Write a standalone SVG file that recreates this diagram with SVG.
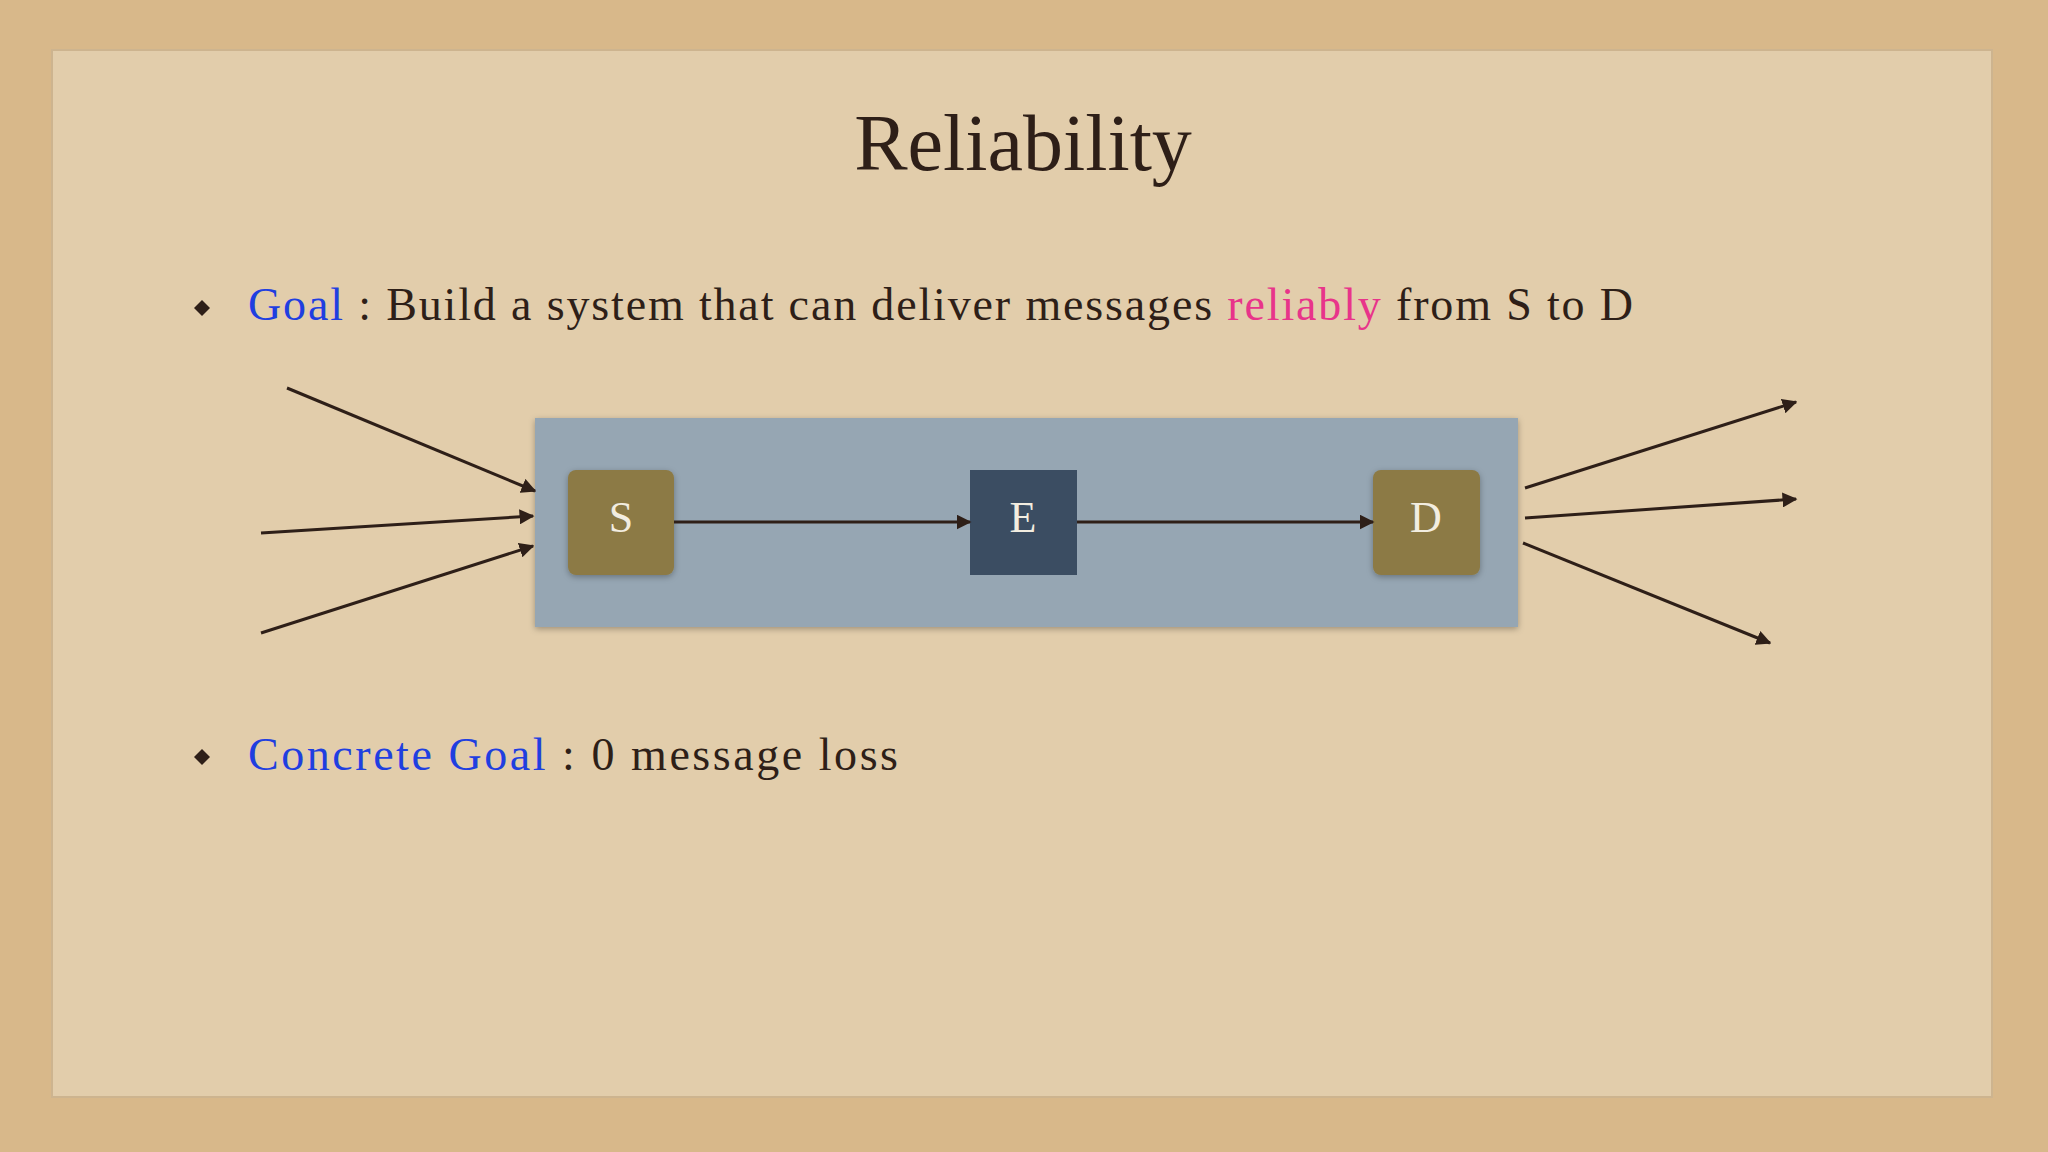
<svg xmlns="http://www.w3.org/2000/svg" width="2048" height="1152" viewBox="0 0 2048 1152">
<defs>
<marker id="ah" viewBox="0 0 10 10" refX="9" refY="5" markerWidth="5" markerHeight="5" orient="auto"><path d="M0,0L10,5L0,10z" fill="#2e1f18"/></marker>
<filter id="sh"><feDropShadow dx="0" dy="2" stdDeviation="3" flood-opacity="0.3"/></filter>
</defs>
<style>
.t{font-family:"Liberation Serif",serif;fill:#2e1f18}
.c{stroke:#2e1f18;stroke-width:3;fill:none;marker-end:url(#ah)}
.n{font-family:"Liberation Serif",serif;font-size:44px;fill:#f2ede0;text-anchor:middle}
</style>
<rect width="2048" height="1152" fill="#d8b88a"/>
<rect x="52" y="50" width="1940" height="1047" fill="#e2cdab" stroke="#cdb48f" stroke-width="2"/>
<text class="t" x="1023" y="170" font-size="80" text-anchor="middle">Reliability</text>
<path d="M202,300l8,8l-8,8l-8,-8z" fill="#2e1f18"/>
<text class="t" x="248" y="320" font-size="46" textLength="1385" lengthAdjust="spacing"><tspan fill="#1f3fe0">Goal</tspan> : Build a system that can deliver messages <tspan fill="#e8348a">reliably</tspan> from S to D</text>
<path d="M202,749l8,8l-8,8l-8,-8z" fill="#2e1f18"/>
<text class="t" x="248" y="770" font-size="46" textLength="650" lengthAdjust="spacing"><tspan fill="#1f3fe0">Concrete Goal</tspan> : 0 message loss</text>
<rect x="535" y="418" width="983" height="209" fill="#96a6b3" filter="url(#sh)"/>
<g id="S"><rect x="568" y="470" width="106" height="105" rx="8" fill="#8c7a45" filter="url(#sh)"/><text class="n" x="621" y="532">S</text></g>
<g id="E"><rect x="970" y="470" width="107" height="105" fill="#3b4d62"/><text class="n" x="1023" y="532">E</text></g>
<g id="D"><rect x="1373" y="470" width="107" height="105" rx="8" fill="#8c7a45" filter="url(#sh)"/><text class="n" x="1426" y="532">D</text></g>
<g id="connectors">
<line class="c" x1="674" y1="522" x2="970" y2="522"/>
<line class="c" x1="1077" y1="522" x2="1373" y2="522"/>
<line class="c" x1="287" y1="388" x2="535" y2="491"/>
<line class="c" x1="261" y1="533" x2="533" y2="516"/>
<line class="c" x1="261" y1="633" x2="533" y2="546"/>
<line class="c" x1="1525" y1="488" x2="1796" y2="402"/>
<line class="c" x1="1525" y1="518" x2="1796" y2="499"/>
<line class="c" x1="1523" y1="543" x2="1770" y2="643"/>
</g>
</svg>
